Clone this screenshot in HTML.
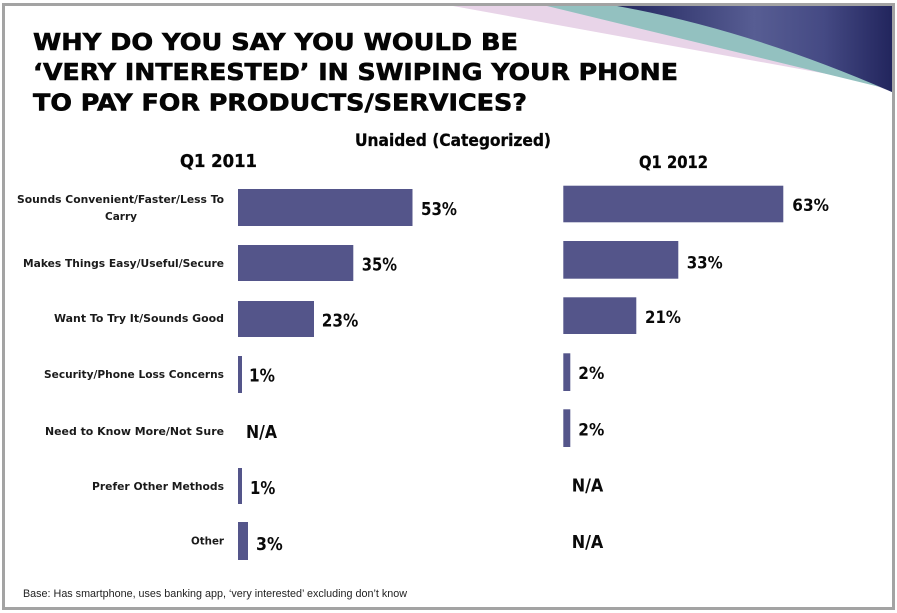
<!DOCTYPE html>
<html>
<head>
<meta charset="utf-8">
<style>
  html, body { margin:0; padding:0; background:#fff; }
  svg { display:block; }
  .t { font-family: "DejaVu Sans", "Liberation Sans", sans-serif; font-weight:bold; fill:#050505; }
  .tt { stroke:#050505; stroke-width:0.6; }
  .c { font-family: "DejaVu Sans", "Liberation Sans", sans-serif; font-weight:bold; fill:#1a1a1a; font-size:11px; }
  .v { font-family: "DejaVu Sans", "Liberation Sans", sans-serif; font-weight:bold; fill:#0a0a0a; }
  .f { font-family: "Liberation Sans", sans-serif; fill:#222; font-size:11px; }
</style>
</head>
<body>
<svg width="897" height="613" viewBox="0 0 897 613" xmlns="http://www.w3.org/2000/svg">
  <defs>
    <linearGradient id="navy" x1="617" y1="0" x2="892" y2="0" gradientUnits="userSpaceOnUse">
      <stop offset="0" stop-color="#23275f"/>
      <stop offset="0.5" stop-color="#575d93"/>
      <stop offset="0.75" stop-color="#454a84"/>
      <stop offset="1" stop-color="#22255d"/>
    </linearGradient>
  </defs>
  <rect x="0" y="0" width="897" height="613" fill="#fff"/>

  <!-- decorative swoosh -->
  <path d="M453,6 L892,6 L892,92 L860,80 Z" fill="#e8d4e8"/>
  <path d="M547,6 L892,6 L892,92 L880,87 Z" fill="#93c1c0"/>
  <path d="M617,6 L892,6 L892,92 Q750,30 617,6 Z" fill="url(#navy)"/>

  <!-- frame -->
  <rect x="3.5" y="4.5" width="890" height="604" fill="none" stroke="#a3a3a3" stroke-width="3"/>

  <!-- title -->
  <text class="t tt" x="33" y="50" font-size="23" textLength="485" lengthAdjust="spacingAndGlyphs">WHY DO YOU SAY YOU WOULD BE</text>
  <text class="t tt" x="33" y="80" font-size="23" textLength="645" lengthAdjust="spacingAndGlyphs">‘VERY INTERESTED’ IN SWIPING YOUR PHONE</text>
  <text class="t tt" x="33" y="110.5" font-size="23" textLength="494" lengthAdjust="spacingAndGlyphs">TO PAY FOR PRODUCTS/SERVICES?</text>

  <text class="t" x="355" y="146" font-size="17" textLength="196" lengthAdjust="spacingAndGlyphs" stroke="#050505" stroke-width="0.3">Unaided (Categorized)</text>
  <text class="t" x="180" y="167" font-size="18" textLength="77" lengthAdjust="spacingAndGlyphs" stroke="#050505" stroke-width="0.3">Q1 2011</text>
  <text class="t" x="639" y="168" font-size="17" textLength="69" lengthAdjust="spacingAndGlyphs" stroke="#050505" stroke-width="0.3">Q1 2012</text>

  <!-- category labels -->
  <text class="c" x="224" y="203" text-anchor="end" textLength="207" lengthAdjust="spacingAndGlyphs">Sounds Convenient/Faster/Less To</text>
  <text class="c" x="137" y="220" text-anchor="end" textLength="32" lengthAdjust="spacingAndGlyphs">Carry</text>
  <text class="c" x="224" y="267" text-anchor="end" textLength="201" lengthAdjust="spacingAndGlyphs">Makes Things Easy/Useful/Secure</text>
  <text class="c" x="224" y="322" text-anchor="end" textLength="170" lengthAdjust="spacingAndGlyphs">Want To Try It/Sounds Good</text>
  <text class="c" x="224" y="378" text-anchor="end" textLength="180" lengthAdjust="spacingAndGlyphs">Security/Phone Loss Concerns</text>
  <text class="c" x="224" y="435" text-anchor="end" textLength="179" lengthAdjust="spacingAndGlyphs">Need to Know More/Not Sure</text>
  <text class="c" x="224" y="490" text-anchor="end" textLength="132" lengthAdjust="spacingAndGlyphs">Prefer Other Methods</text>
  <text class="c" x="224" y="544.5" text-anchor="end" textLength="33" lengthAdjust="spacingAndGlyphs">Other</text>

  <!-- left bars (Q1 2011) -->
  <g fill="#54558a">
    <rect x="238" y="189" width="174.5" height="37"/>
    <rect x="238" y="245" width="115.3" height="36"/>
    <rect x="238" y="301" width="76" height="36"/>
    <rect x="238" y="356" width="4" height="37"/>
    <rect x="238" y="468" width="4" height="36"/>
    <rect x="238" y="522" width="10" height="38"/>
  </g>
  <text class="v" x="421" y="215" font-size="18" textLength="36" lengthAdjust="spacingAndGlyphs">53%</text>
  <text class="v" x="361.7" y="270.7" font-size="18" textLength="35.3" lengthAdjust="spacingAndGlyphs">35%</text>
  <text class="v" x="321.7" y="326.7" font-size="18" textLength="36.6" lengthAdjust="spacingAndGlyphs">23%</text>
  <text class="v" x="249" y="381.7" font-size="18" textLength="26" lengthAdjust="spacingAndGlyphs">1%</text>
  <text class="v" x="246" y="438" font-size="18" textLength="31" lengthAdjust="spacingAndGlyphs">N/A</text>
  <text class="v" x="250" y="494" font-size="18" textLength="25.3" lengthAdjust="spacingAndGlyphs">1%</text>
  <text class="v" x="256" y="550" font-size="18" textLength="26.7" lengthAdjust="spacingAndGlyphs">3%</text>

  <!-- right bars (Q1 2012) -->
  <g fill="#54558a">
    <rect x="563.3" y="185.7" width="220" height="36.6"/>
    <rect x="563.3" y="241" width="115" height="37.7"/>
    <rect x="563.3" y="297.3" width="73" height="36.7"/>
    <rect x="563.3" y="353.3" width="7" height="37.7"/>
    <rect x="563.3" y="409.3" width="7" height="37.7"/>
  </g>
  <text class="v" x="792.3" y="211" font-size="17" textLength="36.7" lengthAdjust="spacingAndGlyphs">63%</text>
  <text class="v" x="686.7" y="268.3" font-size="17" textLength="36" lengthAdjust="spacingAndGlyphs">33%</text>
  <text class="v" x="645" y="323" font-size="17" textLength="36" lengthAdjust="spacingAndGlyphs">21%</text>
  <text class="v" x="578.3" y="379" font-size="17" textLength="26" lengthAdjust="spacingAndGlyphs">2%</text>
  <text class="v" x="578.3" y="435.7" font-size="17" textLength="26" lengthAdjust="spacingAndGlyphs">2%</text>
  <text class="v" x="571.7" y="491.7" font-size="18" textLength="31.6" lengthAdjust="spacingAndGlyphs">N/A</text>
  <text class="v" x="571.7" y="548" font-size="18" textLength="31.6" lengthAdjust="spacingAndGlyphs">N/A</text>

  <!-- footer -->
  <text class="f" x="23" y="597" textLength="384" lengthAdjust="spacingAndGlyphs">Base: Has smartphone, uses banking app, ‘very interested’ excluding  don’t know</text>
</svg>
</body>
</html>
